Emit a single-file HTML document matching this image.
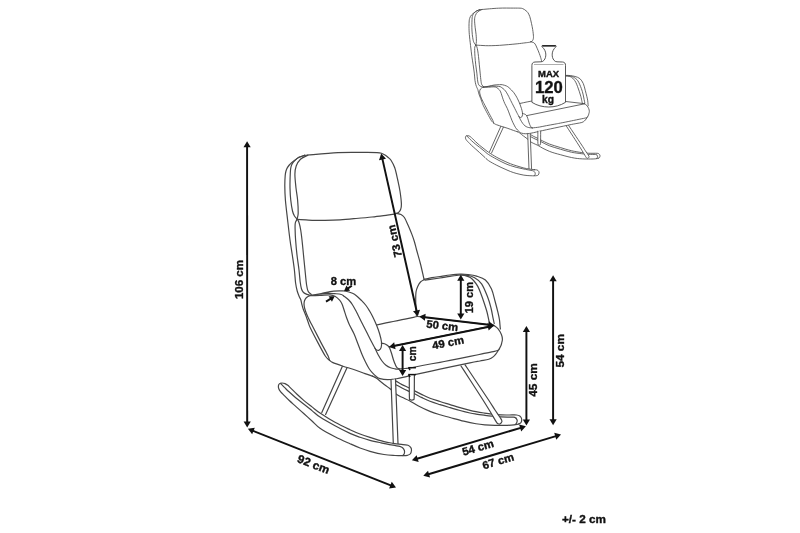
<!DOCTYPE html>
<html><head><meta charset="utf-8"><style>
html,body{margin:0;padding:0;background:#fff;}
svg{display:block;will-change:transform;}
text{font-family:"Liberation Sans",sans-serif;stroke:#111;stroke-width:0.35px;paint-order:stroke;}
</style></head><body>
<svg width="800" height="533" viewBox="0 0 800 533">
<rect width="800" height="533" fill="#fff"/>
<defs>
<g id="chair" fill="none" stroke="#464646" stroke-linecap="round" stroke-linejoin="round">
<path d="M304.50,155.40 C302.67,156.03 300.67,156.45 299.00,157.30 C297.33,158.15 295.73,159.60 294.50,160.50 C293.27,161.40 292.47,161.95 291.60,162.70 C290.73,163.45 290.00,164.18 289.30,165.00 C288.60,165.82 287.95,166.60 287.40,167.60 C286.85,168.60 286.37,169.68 286.00,171.00 C285.63,172.32 285.40,173.00 285.20,175.50 C285.00,178.00 284.77,181.92 284.80,186.00 C284.83,190.08 284.93,194.33 285.40,200.00 C285.87,205.67 286.83,213.33 287.60,220.00 C288.37,226.67 289.22,234.17 290.00,240.00 C290.78,245.83 291.57,250.00 292.30,255.00 C293.03,260.00 293.85,265.33 294.40,270.00 C294.95,274.67 295.13,279.50 295.60,283.00 C296.07,286.50 296.60,288.75 297.20,291.00 C297.80,293.25 298.60,295.03 299.20,296.50 C299.80,297.97 300.35,298.47 300.80,299.80 C301.25,301.13 301.46,302.84 301.90,304.50 C302.34,306.16 302.77,307.83 303.45,309.75 C304.13,311.67 305.23,313.96 306.00,316.00 C306.77,318.04 307.35,319.95 308.10,322.00 C308.85,324.05 308.80,324.73 310.50,328.30 C312.20,331.87 315.83,338.78 318.30,343.40 C320.77,348.02 323.43,353.18 325.30,356.00 C327.17,358.82 328.10,358.87 329.50,360.30"/>
<path d="M304.50,155.40 C302.67,156.03 300.67,156.42 299.00,157.30 C297.33,158.18 295.58,159.70 294.50,160.70 C293.42,161.70 293.05,162.38 292.50,163.30 C291.95,164.22 291.53,165.08 291.20,166.20 C290.87,167.32 290.68,168.03 290.50,170.00 C290.32,171.97 290.18,175.00 290.10,178.00 C290.02,181.00 289.89,184.33 290.00,188.00 C290.11,191.67 290.33,196.17 290.75,200.00 C291.17,203.83 291.88,208.33 292.50,211.00 C293.12,213.67 293.73,214.63 294.50,216.00 C295.27,217.37 296.23,218.13 297.10,219.20"/>
<path d="M308.00,155.10 C305.50,156.48 302.47,157.43 300.50,159.25 C298.53,161.07 297.13,163.50 296.20,166.00 C295.27,168.50 294.93,170.58 294.90,174.25 C294.87,177.92 295.55,183.71 296.00,188.00 C296.45,192.29 297.23,195.83 297.60,200.00 C297.97,204.17 298.28,209.80 298.20,213.00 C298.12,216.20 297.47,217.13 297.10,219.20"/>
<path d="M304.50,155.40 C305.67,155.27 302.42,155.47 308.00,155.00 C313.58,154.53 328.50,153.03 338.00,152.60 C347.50,152.17 358.50,152.46 365.00,152.45 C371.50,152.44 374.25,152.43 377.00,152.55 C379.75,152.68 380.17,152.79 381.50,153.20 C382.83,153.61 383.88,154.28 385.00,155.00 C386.12,155.72 387.20,156.62 388.20,157.50 C389.20,158.38 389.91,158.54 391.00,160.25 C392.09,161.96 393.62,164.46 394.75,167.75 C395.88,171.04 396.88,176.08 397.75,180.00 C398.62,183.92 399.39,187.25 400.00,191.25 C400.61,195.25 401.30,200.96 401.40,204.00 C401.50,207.04 401.03,208.13 400.60,209.50 C400.17,210.87 399.33,211.58 398.80,212.20 C398.27,212.82 397.87,212.87 397.40,213.20"/>
<path d="M297.10,219.30 C300.07,219.50 303.02,219.72 306.00,219.90 C308.98,220.08 311.83,220.32 315.00,220.40 C318.17,220.48 320.83,220.50 325.00,220.40 C329.17,220.30 334.83,220.12 340.00,219.80 C345.17,219.48 350.67,218.97 356.00,218.50 C361.33,218.03 367.00,217.53 372.00,217.00 C377.00,216.47 382.27,215.77 386.00,215.30 C389.73,214.83 392.50,214.55 394.40,214.20 C396.30,213.85 396.40,213.53 397.40,213.20"/>
<path d="M297.10,219.30 C296.50,220.53 295.63,221.38 295.30,223.00 C294.97,224.62 295.05,226.17 295.10,229.00 C295.15,231.83 295.28,235.67 295.60,240.00 C295.92,244.33 296.43,250.00 297.00,255.00 C297.57,260.00 298.47,265.50 299.00,270.00 C299.53,274.50 299.78,278.83 300.20,282.00 C300.62,285.17 300.95,287.25 301.50,289.00 C302.05,290.75 302.60,291.60 303.50,292.50 C304.40,293.40 305.72,293.93 306.90,294.40 C308.08,294.87 309.37,295.00 310.60,295.30"/>
<path d="M297.30,219.30 C297.87,220.37 298.43,220.72 299.00,222.50 C299.57,224.28 300.20,227.08 300.70,230.00 C301.20,232.92 301.53,235.83 302.00,240.00 C302.47,244.17 303.00,250.00 303.50,255.00 C304.00,260.00 304.48,265.00 305.00,270.00 C305.52,275.00 306.08,281.46 306.60,285.00 C307.12,288.54 307.33,289.68 308.10,291.25 C308.88,292.82 310.20,293.35 311.25,294.40"/>
<path d="M396.00,213.20 C397.67,213.63 399.60,213.78 401.00,214.50 C402.40,215.22 403.23,215.75 404.40,217.50 C405.57,219.25 406.75,222.18 408.00,225.00 C409.25,227.82 410.82,231.57 411.90,234.40 C412.98,237.23 413.72,239.40 414.50,242.00 C415.28,244.60 415.60,246.33 416.60,250.00 C417.60,253.67 419.27,259.13 420.50,264.00 C421.73,268.87 422.83,274.13 424.00,279.20"/>
<path d="M310.60,295.30 C314.15,294.73 318.02,294.22 321.25,293.60 C324.48,292.98 326.88,292.05 330.00,291.60 C333.12,291.15 337.50,291.00 340.00,290.90 C342.50,290.80 342.92,290.61 345.00,291.00 C347.08,291.39 350.50,292.38 352.50,293.25 C354.50,294.12 355.50,294.99 357.00,296.20 C358.50,297.41 360.00,298.95 361.50,300.50 C363.00,302.05 364.62,303.71 366.00,305.50 C367.38,307.29 368.65,309.42 369.75,311.25 C370.85,313.08 371.48,314.21 372.60,316.50 C373.73,318.79 375.33,322.12 376.50,325.00 C377.67,327.88 378.77,330.92 379.60,333.75 C380.43,336.58 381.25,339.69 381.50,342.00 C381.75,344.31 381.52,346.23 381.10,347.60 C380.68,348.97 379.75,349.80 379.00,350.20 C378.25,350.60 377.27,350.33 376.60,350.00 C375.93,349.67 375.93,349.73 375.00,348.20 C374.07,346.67 372.25,343.21 371.00,340.80 C369.75,338.39 368.83,336.38 367.50,333.75 C366.17,331.12 364.58,328.12 363.00,325.00 C361.42,321.88 359.12,317.25 358.00,315.00 C356.88,312.75 357.20,313.25 356.25,311.50 C355.30,309.75 353.55,306.42 352.30,304.50 C351.05,302.58 350.13,301.38 348.75,300.00 C347.37,298.62 345.25,297.12 344.00,296.20 C342.75,295.28 342.75,294.92 341.25,294.50 C339.75,294.08 337.21,293.90 335.00,293.70 C332.79,293.50 330.50,293.23 328.00,293.30 C325.50,293.37 322.90,293.77 320.00,294.10 C317.10,294.43 313.73,294.90 310.60,295.30"/>
<path d="M329.50,360.30 C328.97,358.73 329.32,358.55 327.90,355.60 C326.48,352.65 323.38,347.17 321.00,342.60 C318.62,338.03 315.38,331.63 313.60,328.20 C311.82,324.77 311.29,323.93 310.30,322.00 C309.31,320.07 308.44,318.38 307.65,316.60 C306.86,314.82 306.12,313.05 305.55,311.30 C304.98,309.55 304.43,307.67 304.20,306.10 C303.97,304.53 303.97,303.13 304.20,301.90 C304.43,300.67 304.92,299.58 305.55,298.70 C306.18,297.82 307.16,297.10 308.00,296.60 C308.84,296.10 308.60,295.88 310.60,295.70 C312.60,295.52 316.77,295.65 320.00,295.50 C323.23,295.35 327.50,294.67 330.00,294.80 C332.50,294.93 333.40,295.42 335.00,296.30 C336.60,297.18 338.43,298.82 339.60,300.10 C340.77,301.38 341.27,302.39 342.00,304.00 C342.73,305.61 343.25,307.50 344.00,309.75 C344.75,312.00 345.58,314.96 346.50,317.50 C347.42,320.04 348.25,322.29 349.50,325.00 C350.75,327.71 352.58,330.58 354.00,333.75 C355.42,336.92 356.62,340.46 358.00,344.00 C359.38,347.54 361.00,352.00 362.25,355.00 C363.50,358.00 364.38,359.75 365.50,362.00 C366.62,364.25 367.83,366.68 369.00,368.50 C370.17,370.32 371.33,371.60 372.50,372.90 C373.67,374.20 374.75,375.35 376.00,376.30 C377.25,377.25 378.08,378.03 380.00,378.60 C381.92,379.17 384.75,379.68 387.50,379.70 C390.25,379.72 393.38,379.27 396.50,378.75 C399.62,378.23 403.58,377.21 406.25,376.60 C408.92,375.99 406.88,376.33 412.50,375.10 C418.12,373.87 430.42,371.23 440.00,369.20 C449.58,367.17 463.33,364.27 470.00,362.90 C476.67,361.53 476.87,361.60 480.00,361.00 C483.13,360.40 486.55,360.03 488.80,359.30 C491.05,358.57 492.20,357.65 493.50,356.60 C494.80,355.55 495.68,354.22 496.60,353.00 C497.52,351.78 498.20,350.53 499.00,349.30"/>
<path d="M329.50,360.30 C330.47,361.00 330.15,361.42 332.40,362.40 C334.65,363.38 339.44,365.02 343.00,366.20 C346.56,367.38 350.08,368.27 353.75,369.50 C357.42,370.73 361.88,372.50 365.00,373.60 C368.12,374.70 370.00,375.27 372.50,376.10"/>
<path d="M376.50,325.00 C381.00,324.03 385.25,323.07 390.00,322.10 C394.75,321.13 400.43,320.13 405.00,319.20 C409.57,318.27 413.27,317.40 417.40,316.50"/>
<path d="M417.60,316.50 L494.00,325.30"/>
<path d="M389.00,346.90 L493.60,325.60"/>
<path d="M493.50,325.20 C495.03,326.40 496.78,327.27 498.10,328.80 C499.42,330.33 500.68,332.68 501.40,334.40 C502.12,336.12 502.33,337.75 502.40,339.10 C502.47,340.45 502.03,341.42 501.80,342.50 C501.57,343.58 501.47,344.47 501.00,345.60 C500.53,346.73 499.67,348.07 499.00,349.30"/>
<path d="M497.60,350.40 C496.53,350.73 497.00,350.82 494.40,351.40 C491.80,351.98 486.07,353.07 482.00,353.90 C477.93,354.73 475.33,355.32 470.00,356.40 C464.67,357.48 455.00,359.42 450.00,360.40 C445.00,361.38 444.17,361.53 440.00,362.30 C435.83,363.07 429.58,364.13 425.00,365.00 C420.42,365.87 415.83,366.92 412.50,367.50 C409.17,368.08 407.25,368.23 405.00,368.50 C402.75,368.77 401.00,368.90 399.00,369.10"/>
<path d="M381.40,343.10 C382.80,343.47 384.33,343.57 385.60,344.20 C386.87,344.83 388.06,345.52 389.00,346.90 C389.94,348.28 390.50,350.32 391.25,352.50 C392.00,354.68 392.82,357.98 393.50,360.00 C394.18,362.02 394.72,363.33 395.30,364.60 C395.88,365.87 396.32,366.85 397.00,367.60 C397.68,368.35 398.60,368.60 399.40,369.10"/>
<path d="M375.00,348.30 C376.00,350.37 376.83,352.38 378.00,354.50 C379.17,356.62 380.67,359.20 382.00,361.00 C383.33,362.80 384.58,364.17 386.00,365.30 C387.42,366.43 389.00,367.22 390.50,367.80 C392.00,368.38 393.58,368.58 395.00,368.80 C396.42,369.02 397.67,369.00 399.00,369.10"/>
<path d="M424.00,279.40 C426.67,278.83 429.10,278.22 432.00,277.70 C434.90,277.18 438.40,276.75 441.40,276.30 C444.40,275.85 446.86,275.37 450.00,275.00 C453.14,274.63 457.25,274.18 460.25,274.10 C463.25,274.02 465.27,274.17 468.00,274.50 C470.73,274.83 473.70,275.18 476.60,276.10 C479.50,277.02 482.92,277.85 485.40,280.00 C487.88,282.15 489.90,285.50 491.50,289.00 C493.10,292.50 493.92,297.05 495.00,301.00 C496.08,304.95 497.25,309.53 498.00,312.70 C498.75,315.87 499.15,317.70 499.50,320.00 C499.85,322.30 499.95,325.00 500.10,326.50 C500.25,328.00 500.30,328.17 500.40,329.00"/>
<path d="M425.00,280.20 C430.00,279.47 435.83,278.65 440.00,278.00 C444.17,277.35 446.62,276.80 450.00,276.30 C453.38,275.80 457.42,275.17 460.25,275.00 C463.08,274.83 464.71,274.90 467.00,275.30 C469.29,275.70 471.57,275.98 474.00,277.40 C476.43,278.82 479.28,280.42 481.60,283.80 C483.92,287.18 486.33,293.67 487.90,297.70 C489.47,301.73 490.15,304.65 491.00,308.00 C491.85,311.35 492.47,315.22 493.00,317.80 C493.53,320.38 493.80,321.60 494.20,323.50"/>
<path d="M460.25,275.00 C462.17,275.27 464.32,275.37 466.00,275.80 C467.68,276.23 468.97,276.73 470.30,277.60 C471.63,278.47 472.75,279.53 474.00,281.00 C475.25,282.47 476.63,284.23 477.80,286.40 C478.97,288.57 479.95,291.28 481.00,294.00 C482.05,296.72 483.10,299.70 484.10,302.70 C485.10,305.70 486.17,308.87 487.00,312.00 C487.83,315.13 488.60,319.33 489.10,321.50 C489.60,323.67 489.70,323.83 490.00,325.00"/>
<path d="M424.50,279.50 C423.17,280.33 421.63,280.85 420.50,282.00 C419.37,283.15 418.45,284.73 417.70,286.40 C416.95,288.07 416.33,289.73 416.00,292.00 C415.67,294.27 415.70,297.33 415.70,300.00 C415.70,302.67 415.88,305.37 416.00,308.00 C416.12,310.63 416.27,313.20 416.40,315.80"/>
<path d="M342.30,366.40 L321.80,412.60"/>
<path d="M347.00,367.80 L325.60,414.40"/>
<path d="M392.00,379.20 C393.33,379.83 394.33,380.20 396.00,381.10 C397.67,382.00 399.75,383.43 402.00,384.60 C404.25,385.77 407.40,387.05 409.50,388.10 C411.60,389.15 412.52,389.82 414.60,390.90 C416.68,391.98 419.43,393.38 422.00,394.60 C424.57,395.82 427.00,397.05 430.00,398.20 C433.00,399.35 436.67,400.43 440.00,401.50 C443.33,402.57 446.67,403.57 450.00,404.60 C453.33,405.63 456.67,406.75 460.00,407.70 C463.33,408.65 467.33,409.65 470.00,410.30 C472.67,410.95 473.67,411.15 476.00,411.60 C478.33,412.05 481.40,412.58 484.00,413.00 C486.60,413.42 488.77,413.78 491.60,414.10 C494.43,414.42 498.10,414.75 501.00,414.90 C503.90,415.05 506.40,414.98 509.00,415.00 C511.60,415.02 514.81,414.83 516.60,415.00 C518.39,415.17 518.92,415.38 519.75,416.00 C520.58,416.62 521.39,417.67 521.60,418.75 C521.81,419.83 521.52,421.62 521.00,422.50 C520.48,423.38 519.33,423.50 518.50,424.00"/>
<path d="M396.00,384.70 C398.00,385.80 399.75,386.87 402.00,388.00 C404.25,389.13 407.32,390.50 409.50,391.50 C411.68,392.50 413.02,392.98 415.10,394.00 C417.18,395.02 419.52,396.38 422.00,397.60 C424.48,398.82 427.00,400.13 430.00,401.30 C433.00,402.47 436.67,403.55 440.00,404.60 C443.33,405.65 446.67,406.62 450.00,407.60 C453.33,408.58 456.67,409.60 460.00,410.50 C463.33,411.40 467.33,412.40 470.00,413.00 C472.67,413.60 473.67,413.73 476.00,414.10 C478.33,414.47 481.40,414.87 484.00,415.20 C486.60,415.53 488.77,415.82 491.60,416.10 C494.43,416.38 497.35,416.72 501.00,416.90 C504.65,417.08 511.00,417.00 513.50,417.20 C516.00,417.40 515.17,417.80 516.00,418.10"/>
<path d="M516.00,418.10 C516.40,418.87 517.10,419.57 517.20,420.40 C517.30,421.23 516.88,422.45 516.60,423.10 C516.32,423.75 515.87,423.90 515.50,424.30"/>
<path d="M372.50,376.10 C373.75,376.77 374.50,376.87 376.25,378.10 C378.00,379.33 380.75,381.77 383.00,383.50 C385.25,385.23 387.58,386.75 389.75,388.50 C391.92,390.25 393.96,392.53 396.00,394.00 C398.04,395.47 399.75,396.18 402.00,397.30 C404.25,398.43 406.75,399.30 409.50,400.75 C412.25,402.20 415.08,404.23 418.50,406.00 C421.92,407.77 426.42,409.93 430.00,411.40 C433.58,412.87 436.67,413.78 440.00,414.80 C443.33,415.82 446.04,416.43 450.00,417.50 C453.96,418.57 459.42,420.16 463.75,421.20 C468.08,422.24 472.46,423.15 476.00,423.75 C479.54,424.35 481.88,424.54 485.00,424.80 C488.12,425.06 491.04,425.22 494.75,425.30 C498.46,425.38 504.04,425.37 507.25,425.30 C510.46,425.23 512.12,425.12 514.00,424.90 C515.88,424.68 517.00,424.30 518.50,424.00"/>
<path d="M391.00,380.00 L393.30,443.60 L398.00,443.80 L395.50,379.20 Z" fill="#fff" stroke="none"/>
<path d="M391.00,380.00 L393.30,443.60"/>
<path d="M395.50,379.20 L398.00,443.80"/>
<path d="M409.30,375.00 C409.33,382.40 409.23,393.10 409.40,397.20 C409.57,401.30 409.90,399.10 410.30,399.60 C410.70,400.10 411.28,400.23 411.80,400.20 C412.32,400.17 413.00,399.93 413.40,399.40 C413.80,398.87 414.03,401.07 414.20,397.00 C414.37,392.93 414.33,382.33 414.40,375.00" fill="#fff"/>
<path d="M461.00,366.00 C464.03,370.67 466.43,374.33 470.10,380.00 C473.77,385.67 479.52,394.50 483.00,400.00 C486.48,405.50 488.73,409.27 491.00,413.00 C493.27,416.73 495.40,420.60 496.60,422.40 C497.80,424.20 497.67,423.53 498.20,423.80 C498.73,424.07 499.30,424.17 499.80,424.00 C500.30,423.83 500.90,423.47 501.20,422.80 C501.50,422.13 502.63,422.13 501.60,420.00 C500.57,417.87 497.17,413.33 495.00,410.00 C492.83,406.67 491.90,405.00 488.60,400.00 C485.30,395.00 479.15,385.90 475.20,380.00 C471.25,374.10 468.33,369.73 464.90,364.60 Z" fill="#fff" stroke="none"/>
<path d="M461.00,366.00 C464.03,370.67 466.43,374.33 470.10,380.00 C473.77,385.67 479.52,394.50 483.00,400.00 C486.48,405.50 488.73,409.27 491.00,413.00 C493.27,416.73 495.40,420.60 496.60,422.40 C497.80,424.20 497.67,423.53 498.20,423.80 C498.73,424.07 499.30,424.17 499.80,424.00 C500.30,423.83 500.90,423.47 501.20,422.80 C501.50,422.13 502.63,422.13 501.60,420.00 C500.57,417.87 497.17,413.33 495.00,410.00 C492.83,406.67 491.90,405.00 488.60,400.00 C485.30,395.00 479.15,385.90 475.20,380.00 C471.25,374.10 468.33,369.73 464.90,364.60"/>
<path d="M403.00,444.65 C400.50,444.33 396.17,443.81 393.00,443.30 C389.83,442.79 387.83,442.58 384.00,441.60 C380.17,440.62 374.00,438.67 370.00,437.40 C366.00,436.13 363.33,435.28 360.00,434.00 C356.67,432.72 354.17,431.65 350.00,429.70 C345.83,427.75 340.00,425.08 335.00,422.30 C330.00,419.52 323.83,415.57 320.00,413.00 C316.17,410.43 314.67,408.97 312.00,406.90 C309.33,404.83 306.50,402.70 304.00,400.60 C301.50,398.50 299.25,396.42 297.00,394.30 C294.75,392.18 292.03,389.40 290.50,387.90 C288.97,386.40 288.72,386.02 287.80,385.30 C286.88,384.58 285.97,383.98 285.00,383.60 C284.03,383.22 282.90,383.00 282.00,383.00 C281.10,383.00 280.20,383.13 279.60,383.60 C279.00,384.07 278.53,384.93 278.40,385.80 C278.27,386.67 278.45,387.83 278.80,388.80 C279.15,389.77 279.63,390.52 280.50,391.60 C281.37,392.68 282.58,393.85 284.00,395.30 C285.42,396.75 287.00,398.42 289.00,400.30 C291.00,402.18 293.50,404.35 296.00,406.60 C298.50,408.85 301.33,411.40 304.00,413.80 C306.67,416.20 309.33,418.60 312.00,421.00 C314.67,423.40 316.17,425.58 320.00,428.20 C323.83,430.82 330.00,434.12 335.00,436.70 C340.00,439.28 345.83,441.82 350.00,443.70 C354.17,445.58 356.67,446.73 360.00,448.00 C363.33,449.27 366.00,450.22 370.00,451.30 C374.00,452.38 379.83,453.80 384.00,454.50 C388.17,455.20 391.83,455.30 395.00,455.50 C398.17,455.70 400.92,455.73 403.00,455.70 C405.08,455.67 406.30,455.58 407.50,455.30 C408.70,455.02 409.53,454.85 410.20,454.00 C410.87,453.15 411.42,451.30 411.50,450.20 C411.58,449.10 411.28,448.23 410.70,447.40 C410.12,446.57 409.28,445.66 408.00,445.20 C406.72,444.74 405.50,444.97 403.00,444.65 Z" fill="#fff"/>
<path d="M280.70,383.50 C282.13,384.97 283.62,386.52 285.00,387.90 C286.38,389.28 287.17,390.12 289.00,391.80 C290.83,393.48 293.50,395.93 296.00,398.00 C298.50,400.07 301.33,402.10 304.00,404.20 C306.67,406.30 309.33,408.45 312.00,410.60 C314.67,412.75 316.17,414.57 320.00,417.10 C323.83,419.63 330.00,423.08 335.00,425.80 C340.00,428.52 345.83,431.48 350.00,433.40 C354.17,435.32 356.67,436.15 360.00,437.30 C363.33,438.45 366.50,439.38 370.00,440.30 C373.50,441.22 377.17,441.98 381.00,442.80 C384.83,443.62 389.88,444.60 393.00,445.20 C396.12,445.80 398.10,445.97 399.70,446.40 C401.30,446.83 401.82,447.12 402.60,447.80 C403.38,448.48 404.12,449.53 404.40,450.50 C404.68,451.47 404.57,452.75 404.30,453.60 C404.03,454.45 403.30,454.93 402.80,455.60"/>
</g>
</defs>
<use href="#chair" stroke-width="1.2"/>
<use href="#chair" stroke-width="1.5" transform="translate(311.5,-76.2) scale(0.553)"/>

<g>
<path d="M542.4,45.5 L555.6,45.5 C556.3,45.6 556.4,46.6 555.4,47.4 C553.6,49 552.3,51.5 552.2,54.1 C552.1,56.6 552.6,58.6 554.1,60.4 C554.8,61.3 555.6,61.7 557,61.8 L562.5,62 C564.6,62.2 565.5,63.2 565.5,65.3 L565.5,102.3 C560.4,105.6 554.5,107 548.7,107 C542.8,107 537,105.6 531.9,102.3 L531.9,65.3 C532,63.2 532.8,62.2 535,62 L541,61.8 C542.4,61.7 543.2,61.3 543.9,60.4 C545.4,58.6 545.9,56.6 545.8,54.1 C545.7,51.5 544.4,49 542.6,47.4 C541.6,46.6 541.7,45.6 542.4,45.5 Z" fill="#fff" stroke="#444" stroke-width="0.9"/>
<line x1="542.3" y1="45.9" x2="555.7" y2="45.9" stroke="#222" stroke-width="1.5"/>
<path d="M534,64.5 L563.5,64.5" stroke="#777" stroke-width="0.6" fill="none"/>
<text x="0" y="0" transform="translate(548.60,73.80) rotate(0.00)" font-size="8.40" font-weight="bold" text-anchor="middle" dominant-baseline="central" fill="#111" textLength="21.00" lengthAdjust="spacingAndGlyphs">MAX</text><text x="0" y="0" transform="translate(548.80,86.60) rotate(0.00)" font-size="16.50" font-weight="bold" text-anchor="middle" dominant-baseline="central" fill="#111" textLength="27.80" lengthAdjust="spacingAndGlyphs">120</text><text x="0" y="0" transform="translate(548.00,99.50) rotate(0.00)" font-size="10.40" font-weight="bold" text-anchor="middle" dominant-baseline="central" fill="#111" textLength="12.00" lengthAdjust="spacingAndGlyphs">kg</text></g>
<line x1="247.10" y1="144.80" x2="247.20" y2="423.80" stroke="#111" stroke-width="1.95"/>
<polygon points="247.20,427.40 243.60,421.40 250.80,421.40" fill="#111"/>
<polygon points="247.10,141.20 243.50,147.20 250.70,147.20" fill="#111"/>
<text x="0" y="0" transform="translate(239.30,279.60) rotate(-90.00)" font-size="11.00" font-weight="bold" text-anchor="middle" dominant-baseline="central" fill="#111" textLength="39.00" lengthAdjust="spacingAndGlyphs">106 cm</text>
<line x1="251.25" y1="430.12" x2="392.65" y2="486.08" stroke="#111" stroke-width="1.95"/>
<polygon points="396.00,487.40 389.10,488.54 391.75,481.84" fill="#111"/>
<polygon points="247.90,428.80 252.15,434.36 254.80,427.66" fill="#111"/>
<text x="0" y="0" transform="translate(313.60,464.30) rotate(21.59)" font-size="11.50" font-weight="bold" text-anchor="middle" dominant-baseline="central" fill="#111" textLength="33.50" lengthAdjust="spacingAndGlyphs">92 cm</text>
<line x1="415.35" y1="459.27" x2="522.45" y2="427.33" stroke="#111" stroke-width="1.95"/>
<polygon points="525.90,426.30 521.18,431.46 519.12,424.56" fill="#111"/>
<polygon points="411.90,460.30 418.68,462.04 416.62,455.14" fill="#111"/>
<text x="0" y="0" transform="translate(477.85,447.40) rotate(-16.34)" font-size="11.00" font-weight="bold" text-anchor="middle" dominant-baseline="central" fill="#111" textLength="32.50" lengthAdjust="spacingAndGlyphs">54 cm</text>
<line x1="426.75" y1="474.77" x2="557.55" y2="435.63" stroke="#111" stroke-width="1.95"/>
<polygon points="561.00,434.60 556.28,439.77 554.22,432.87" fill="#111"/>
<polygon points="423.30,475.80 430.08,477.53 428.02,470.63" fill="#111"/>
<text x="0" y="0" transform="translate(498.15,460.90) rotate(-16.78)" font-size="11.00" font-weight="bold" text-anchor="middle" dominant-baseline="central" fill="#111" textLength="32.50" lengthAdjust="spacingAndGlyphs">67 cm</text>
<line x1="526.40" y1="329.50" x2="526.40" y2="421.90" stroke="#111" stroke-width="1.95"/>
<polygon points="526.40,425.50 522.80,419.50 530.00,419.50" fill="#111"/>
<polygon points="526.40,325.90 522.80,331.90 530.00,331.90" fill="#111"/>
<text x="0" y="0" transform="translate(533.00,380.00) rotate(-90.00)" font-size="11.00" font-weight="bold" text-anchor="middle" dominant-baseline="central" fill="#111" textLength="33.50" lengthAdjust="spacingAndGlyphs">45 cm</text>
<line x1="553.10" y1="278.80" x2="553.10" y2="421.70" stroke="#111" stroke-width="1.95"/>
<polygon points="553.10,425.30 549.50,419.30 556.70,419.30" fill="#111"/>
<polygon points="553.10,275.20 549.50,281.20 556.70,281.20" fill="#111"/>
<text x="0" y="0" transform="translate(560.10,350.80) rotate(-90.00)" font-size="11.00" font-weight="bold" text-anchor="middle" dominant-baseline="central" fill="#111" textLength="33.50" lengthAdjust="spacingAndGlyphs">54 cm</text>
<line x1="417.01" y1="312.79" x2="381.99" y2="157.11" stroke="#111" stroke-width="1.95"/>
<polygon points="381.20,153.60 386.03,158.66 379.00,160.24" fill="#111"/>
<polygon points="417.80,316.30 420.00,309.66 412.97,311.24" fill="#111"/>
<text x="0" y="0" transform="translate(394.50,241.00) rotate(-102.45)" font-size="11.00" font-weight="bold" text-anchor="middle" dominant-baseline="central" fill="#111" textLength="33.00" lengthAdjust="spacingAndGlyphs">73 cm</text>
<line x1="460.80" y1="278.40" x2="460.80" y2="315.90" stroke="#111" stroke-width="1.95"/>
<polygon points="460.80,319.50 457.20,313.50 464.40,313.50" fill="#111"/>
<polygon points="460.80,274.80 457.20,280.80 464.40,280.80" fill="#111"/>
<text x="0" y="0" transform="translate(469.00,297.60) rotate(-90.00)" font-size="11.00" font-weight="bold" text-anchor="middle" dominant-baseline="central" fill="#111" textLength="31.50" lengthAdjust="spacingAndGlyphs">19 cm</text>
<line x1="422.88" y1="317.02" x2="490.82" y2="324.98" stroke="#111" stroke-width="1.95"/>
<polygon points="494.40,325.40 488.02,328.28 488.86,321.13" fill="#111"/>
<polygon points="419.30,316.60 424.84,320.87 425.68,313.72" fill="#111"/>
<text x="0" y="0" transform="translate(442.40,325.40) rotate(7.07)" font-size="11.00" font-weight="bold" text-anchor="middle" dominant-baseline="central" fill="#111" textLength="32.00" lengthAdjust="spacingAndGlyphs">50 cm</text>
<line x1="392.53" y1="346.28" x2="490.27" y2="326.42" stroke="#111" stroke-width="1.95"/>
<polygon points="493.80,325.70 488.64,330.42 487.20,323.37" fill="#111"/>
<polygon points="389.00,347.00 395.60,349.33 394.16,342.28" fill="#111"/>
<text x="0" y="0" transform="translate(448.00,342.40) rotate(-11.46)" font-size="11.00" font-weight="bold" text-anchor="middle" dominant-baseline="central" fill="#111" textLength="32.00" lengthAdjust="spacingAndGlyphs">49 cm</text>
<line x1="402.60" y1="348.60" x2="402.60" y2="372.50" stroke="#111" stroke-width="1.95"/>
<polygon points="402.60,376.10 399.00,370.10 406.20,370.10" fill="#111"/>
<polygon points="402.60,345.00 399.00,351.00 406.20,351.00" fill="#111"/>
<text x="0" y="0" transform="translate(412.20,353.70) rotate(-90.00)" font-size="11.00" font-weight="bold" text-anchor="middle" dominant-baseline="central" fill="#111" textLength="15.00" lengthAdjust="spacingAndGlyphs">cm</text>
<path d="M408.2,367.70 L415.9,367.70" stroke="#111" stroke-width="1.5" fill="none"/>
<path d="M408.7,368.00 L410.1,370.10" stroke="#111" stroke-width="1.4" fill="none"/>
<path d="M408.2,374.60 L415.9,374.60" stroke="#111" stroke-width="1.5" fill="none"/>
<path d="M408.7,374.90 L410.1,377.00" stroke="#111" stroke-width="1.4" fill="none"/>
<line x1="351.80" y1="285.80" x2="346.57" y2="289.42" stroke="#111" stroke-width="1.95"/>
<polygon points="344.00,291.20 346.45,285.61 350.10,290.87" fill="#111"/>
<line x1="326.00" y1="301.70" x2="332.05" y2="297.95" stroke="#111" stroke-width="1.95"/>
<polygon points="334.70,296.30 331.97,301.76 328.59,296.32" fill="#111"/>
<text x="0" y="0" transform="translate(343.50,280.50) rotate(0.00)" font-size="11.50" font-weight="bold" text-anchor="middle" dominant-baseline="central" fill="#111" textLength="25.50" lengthAdjust="spacingAndGlyphs">8 cm</text>
<text x="0" y="0" transform="translate(584.00,519.30) rotate(0.00)" font-size="11.00" font-weight="bold" text-anchor="middle" dominant-baseline="central" fill="#111" textLength="44.00" lengthAdjust="spacingAndGlyphs">+/- 2 cm</text>
</svg>
</body></html>
